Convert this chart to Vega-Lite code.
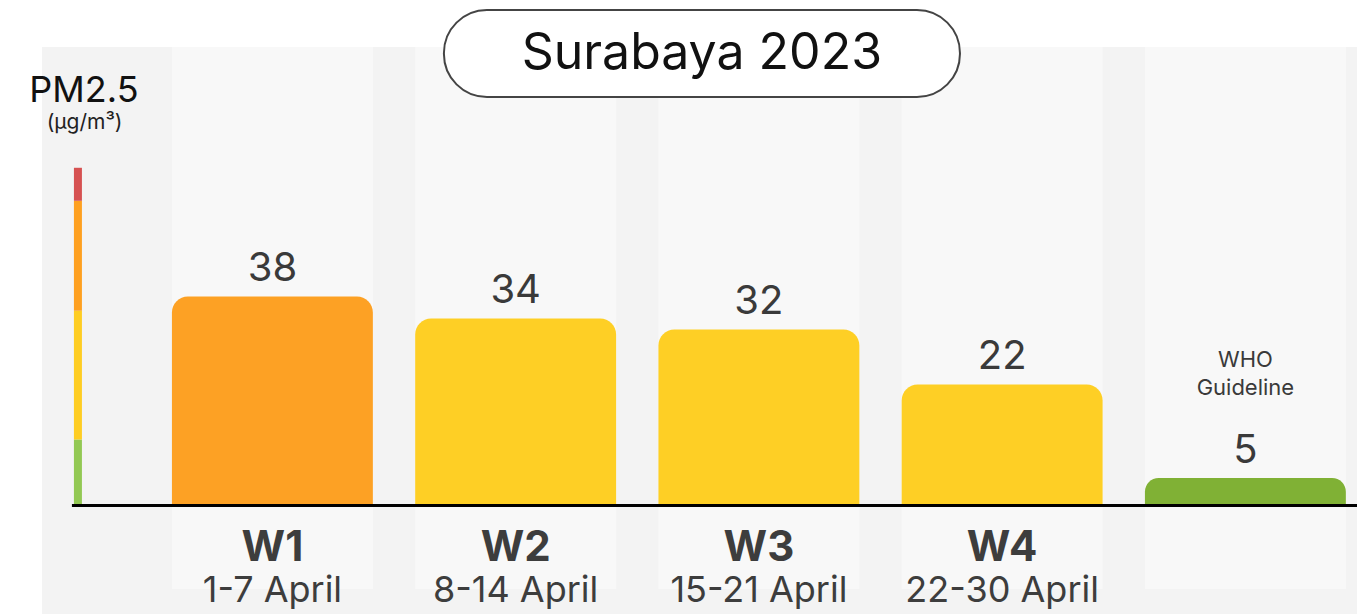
{
  "$schema": "https://vega.github.io/schema/vega-lite/v6.json",
  "width": 1315,
  "height": 567,
  "autosize": {"type": "none"},
  "padding": {"left": 42, "top": 47, "right": 0, "bottom": 0},
  "background": "white",
  "config": {"view": {"stroke": null, "fill": "#f3f3f3"}, "text": {"font": "Inter"}},
  "datasets": {
    "weeks": [
      {"key": "W1", "week": "W1", "dates": "1-7 April", "pm25": 38},
      {"key": "W2", "week": "W2", "dates": "8-14 April", "pm25": 34},
      {"key": "W3", "week": "W3", "dates": "15-21 April", "pm25": 32},
      {"key": "W4", "week": "W4", "dates": "22-30 April", "pm25": 22},
      {"key": "WHO", "week": "", "dates": "", "pm25": 5, "note": "WHO\nGuideline"}
    ],
    "bands": [
      {"category": "Good", "lo": 0, "hi": 12},
      {"category": "Moderate", "lo": 12, "hi": 35.4},
      {"category": "Unhealthy for Sensitive Groups", "lo": 35.4, "hi": 55.4},
      {"category": "Unhealthy", "lo": 55.4, "hi": 61.4}
    ]
  },
  "data": {"name": "weeks"},
  "layer": [
    {
      "mark": {"type": "rect", "fill": "#f8f8f8"},
      "encoding": {
        "x": {
          "field": "key", "type": "nominal", "axis": null,
          "scale": {"domain": ["W1", "W2", "W3", "W4", "WHO"], "paddingInner": 0.174, "paddingOuter": 0.29, "align": 0.921}
        },
        "y": {
          "datum": 83.36, "type": "quantitative", "axis": null,
          "scale": {"domain": [-19.73, 83.36], "nice": false, "zero": false}
        },
        "y2": {"datum": -15.18}
      }
    },
    {
      "data": {"name": "bands"},
      "mark": {"type": "rect"},
      "encoding": {
        "x": {"datum": "W1", "bandPosition": -0.4878},
        "x2": {"datum": "W1", "bandPosition": -0.448},
        "y": {"field": "lo", "type": "quantitative"},
        "y2": {"field": "hi"},
        "fill": {
          "field": "lo", "type": "quantitative", "legend": null,
          "scale": {"type": "threshold", "domain": [12, 35.4, 55.4], "range": ["#92c853", "#fecd22", "#fea020", "#d65151"]}
        }
      }
    },
    {
      "mark": {"type": "bar", "cornerRadiusTopLeft": 16, "cornerRadiusTopRight": 16},
      "encoding": {
        "x": {"field": "key", "type": "nominal"},
        "y": {"field": "pm25", "type": "quantitative"},
        "y2": {"datum": 0},
        "color": {
          "field": "pm25", "type": "quantitative", "legend": null,
          "scale": {"type": "threshold", "domain": [12, 35.4, 55.4], "range": ["#80b135", "#fecf25", "#fda124", "#d65151"]}
        }
      }
    },
    {
      "data": {"values": [{}]},
      "mark": {"type": "rule", "color": "#000000", "strokeWidth": 3},
      "encoding": {
        "x": {"datum": "W1", "bandPosition": -0.4978},
        "x2": {"datum": "WHO", "bandPosition": 1.06},
        "y": {"datum": 0, "type": "quantitative"}
      }
    },
    {
      "mark": {"type": "text", "fontSize": 40, "color": "#3a3a3a", "baseline": "alphabetic", "dy": -15},
      "encoding": {
        "x": {"field": "key", "type": "nominal"},
        "y": {"field": "pm25", "type": "quantitative"},
        "text": {"field": "pm25", "type": "quantitative"}
      }
    },
    {
      "transform": [{"filter": "datum.note"}],
      "mark": {"type": "text", "fontSize": 22, "color": "#3a3a3a", "baseline": "alphabetic", "dy": -111, "lineBreak": "\n", "lineHeight": 28},
      "encoding": {
        "x": {"field": "key", "type": "nominal"},
        "y": {"field": "pm25", "type": "quantitative"},
        "text": {"field": "note"}
      }
    },
    {
      "mark": {"type": "text", "fontSize": 42, "fontWeight": "bold", "color": "#3d3d3d", "baseline": "alphabetic"},
      "encoding": {
        "x": {"field": "key", "type": "nominal"},
        "y": {"datum": -10.09, "type": "quantitative"},
        "text": {"field": "week"}
      }
    },
    {
      "mark": {"type": "text", "fontSize": 36, "color": "#3d3d3d", "baseline": "alphabetic"},
      "encoding": {
        "x": {"field": "key", "type": "nominal"},
        "y": {"datum": -17.55, "type": "quantitative"},
        "text": {"field": "dates"}
      }
    },
    {
      "data": {"values": [{}]},
      "mark": {"type": "rect", "fill": "white", "stroke": "#444444", "strokeWidth": 2, "cornerRadius": 43},
      "encoding": {
        "x": {"datum": "W2", "bandPosition": 0.143},
        "x2": {"datum": "W4", "bandPosition": 0.29},
        "y": {"datum": 90.09, "type": "quantitative"},
        "y2": {"datum": 74.27}
      }
    },
    {
      "data": {"values": [{"title": "Surabaya 2023"}]},
      "mark": {"type": "text", "fontSize": 50, "color": "#111111", "baseline": "alphabetic"},
      "encoding": {
        "x": {"datum": "W3", "bandPosition": 0.216},
        "y": {"datum": 79.27, "type": "quantitative"},
        "text": {"field": "title"}
      }
    },
    {
      "data": {"values": [{"label": "PM2.5"}]},
      "mark": {"type": "text", "fontSize": 36, "color": "#111111", "baseline": "alphabetic"},
      "encoding": {
        "x": {"datum": "W1", "bandPosition": -0.438},
        "y": {"datum": 73.42, "type": "quantitative"},
        "text": {"field": "label"}
      }
    },
    {
      "data": {"values": [{"label": "(µg/m³)"}]},
      "mark": {"type": "text", "fontSize": 21, "color": "#222222", "baseline": "alphabetic"},
      "encoding": {
        "x": {"datum": "W1", "bandPosition": -0.435},
        "y": {"datum": 68.45, "type": "quantitative"},
        "text": {"field": "label"}
      }
    }
  ]
}
